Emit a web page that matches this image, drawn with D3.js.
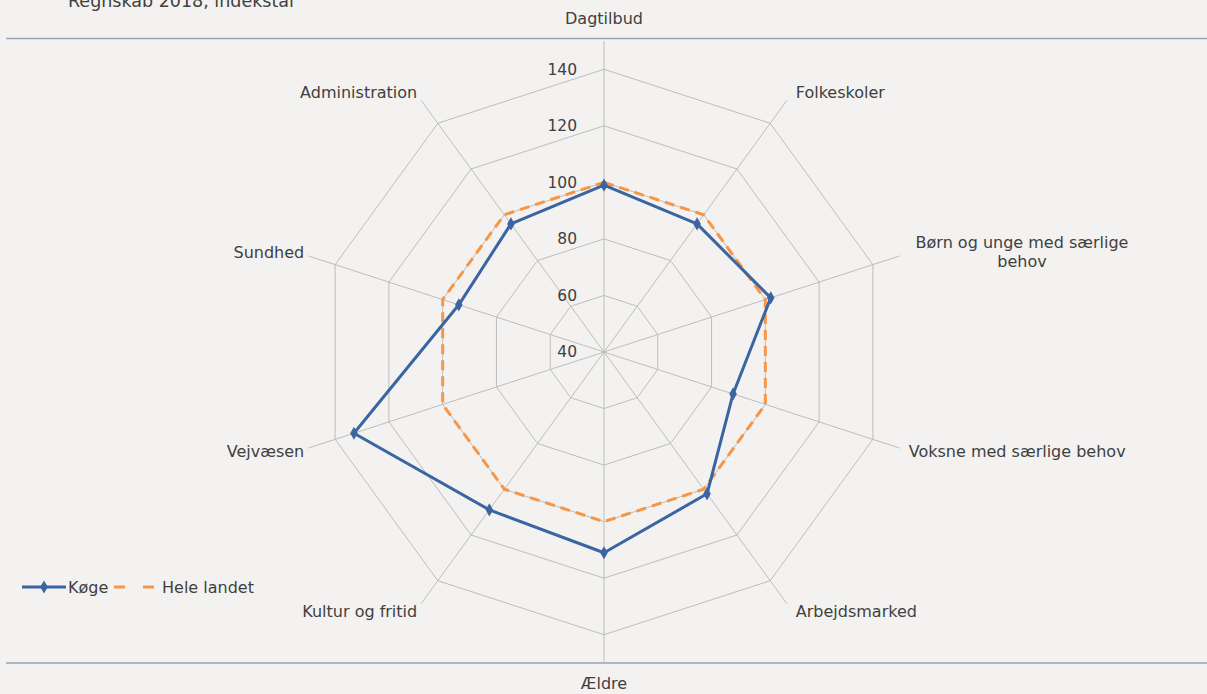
<!DOCTYPE html>
<html>
<head>
<meta charset="utf-8">
<script src="https://cdn.jsdelivr.net/npm/d3@7"></script>
<style>
  html, body { margin: 0; padding: 0; background: #f3f2f0; }
  svg { display: block; }
  text { font-family: "DejaVu Sans", Verdana, sans-serif; fill: #404040; }
</style>
</head>
<body>
<div id="chart"></div>
<script>
// data
var categories = ["Dagtilbud", "Folkeskoler", "Børn og unge med særlige behov",
  "Voksne med særlige behov", "Arbejdsmarked", "Ældre", "Kultur og fritid",
  "Vejvæsen", "Sundhed", "Administration"];
var koge = [99, 96, 102, 88, 102, 111, 109, 133, 94, 96];
var heleLandet = [100, 100, 100, 100, 100, 100, 100, 100, 100, 100];
var ringTicks = [40, 60, 80, 100, 120, 140];
var seriesNames = ["Køge", "Hele landet"];

var width = 1207, height = 694;
var cx = 604, cy = 352;
var blue = "#3b64a2", orange = "#f79646", grid = "#bdbdbd";
var fs = "16px";

var svg = d3.select("#chart").append("svg")
  .attr("width", width)
  .attr("height", height);

svg.append("rect").attr("width", width).attr("height", height).attr("fill", "#f3f2f0");

// title (cut off at the top in the reference)
svg.append("text")
  .attr("x", 68).attr("y", 7)
  .style("font-size", "17.5px")
  .text("Regnskab 2018, indekstal");

// frame lines
svg.append("line").attr("x1", 6).attr("x2", width).attr("y1", 38.5).attr("y2", 38.5)
  .attr("stroke", "#93a3b8").attr("stroke-width", 1.5);
svg.append("line").attr("x1", 6).attr("x2", width).attr("y1", 663).attr("y2", 663)
  .attr("stroke", "#93a3b8").attr("stroke-width", 1.5);

var r = d3.scaleLinear().domain([40, 150]).range([0, 311]);
var angle = d3.scaleLinear().domain([0, categories.length]).range([0, 2 * Math.PI]);

function pt(i, v) {
  var a = angle(i);
  return [cx + r(v) * Math.sin(a), cy - r(v) * Math.cos(a)];
}

var g = svg.append("g");

// rings
ringTicks.forEach(function(t) {
  if (t == 40) return;
  var pts = categories.map(function(c, i) { return pt(i, t); });
  g.append("polygon")
    .attr("points", pts.map(function(p) { return p.join(","); }).join(" "))
    .attr("fill", "none")
    .attr("stroke", grid)
    .attr("stroke-width", 1);
});

// spokes
g.selectAll(".spoke").data(categories).enter().append("line")
  .attr("class", "spoke")
  .attr("x1", cx).attr("y1", cy)
  .attr("x2", function(d, i) { return pt(i, 150)[0]; })
  .attr("y2", function(d, i) { return pt(i, 150)[1]; })
  .attr("stroke", grid)
  .attr("stroke-width", 1);

// tick labels
g.selectAll(".tick").data(ringTicks).enter().append("text")
  .attr("class", "tick")
  .attr("x", cx - 27)
  .attr("y", function(d) { return cy - r(d); })
  .attr("dy", "0.35em")
  .attr("text-anchor", "end")
  .style("font-size", "15.5px")
  .text(function(d) { return d; });

// category labels
function wrapName(s) {
  if (s.length <= 26) return [s];
  var k = s.lastIndexOf(" ");
  return [s.slice(0, k), s.slice(k + 1)];
}
categories.forEach(function(c, i) {
  var e = pt(i, 150);
  var s = Math.sin(angle(i)), co = Math.cos(angle(i));
  var x = e[0], y = e[1] - co * 10, anchor;
  if (Math.abs(s) < 0.01) {
    anchor = "middle";
    y = co > 0 ? 18 : 683;
  } else if (s > 0) {
    anchor = "start"; x += 9;
  } else {
    anchor = "end"; x -= 4;
  }
  var lines = wrapName(c);
  var t = g.append("text")
    .attr("text-anchor", lines.length > 1 ? "middle" : anchor)
    .attr("y", lines.length > 1 ? y - 10 : y)
    .style("font-size", fs);
  if (lines.length > 1) x = 1022;
  lines.forEach(function(l, j) {
    t.append("tspan").attr("x", x).attr("dy", j == 0 ? "0.35em" : "19px").text(l);
  });
});

var line = d3.line().curve(d3.curveLinearClosed);

// Hele landet
g.append("path")
  .attr("d", line(heleLandet.map(function(v, i) { return pt(i, v); })))
  .attr("fill", "none")
  .attr("stroke", orange)
  .attr("stroke-width", 3)
  .attr("stroke-dasharray", "10,6");

// Køge
g.append("path")
  .attr("d", line(koge.map(function(v, i) { return pt(i, v); })))
  .attr("fill", "none")
  .attr("stroke", blue)
  .attr("stroke-width", 3)
  .attr("stroke-linejoin", "round");

var diamond = d3.symbol().type(d3.symbolDiamond).size(50);
g.selectAll(".mk").data(koge).enter().append("path")
  .attr("class", "mk")
  .attr("d", diamond)
  .attr("transform", function(d, i) { return "translate(" + pt(i, d).join(",") + ")"; })
  .attr("fill", blue);

// legend
var lg = svg.append("g").attr("transform", "translate(0,587)");
lg.append("line").attr("x1", 22).attr("x2", 66).attr("stroke", blue).attr("stroke-width", 3);
lg.append("path").attr("d", diamond).attr("transform", "translate(44,0)").attr("fill", blue);
lg.append("text").attr("x", 68).attr("dy", "0.35em").style("font-size", fs).text(seriesNames[0]);
lg.append("line").attr("x1", 114).attr("x2", 154).attr("stroke", orange).attr("stroke-width", 3)
  .attr("stroke-dasharray", "11,18");
lg.append("text").attr("x", 162).attr("dy", "0.35em").style("font-size", fs).text(seriesNames[1]);
</script>
</body>
</html>
